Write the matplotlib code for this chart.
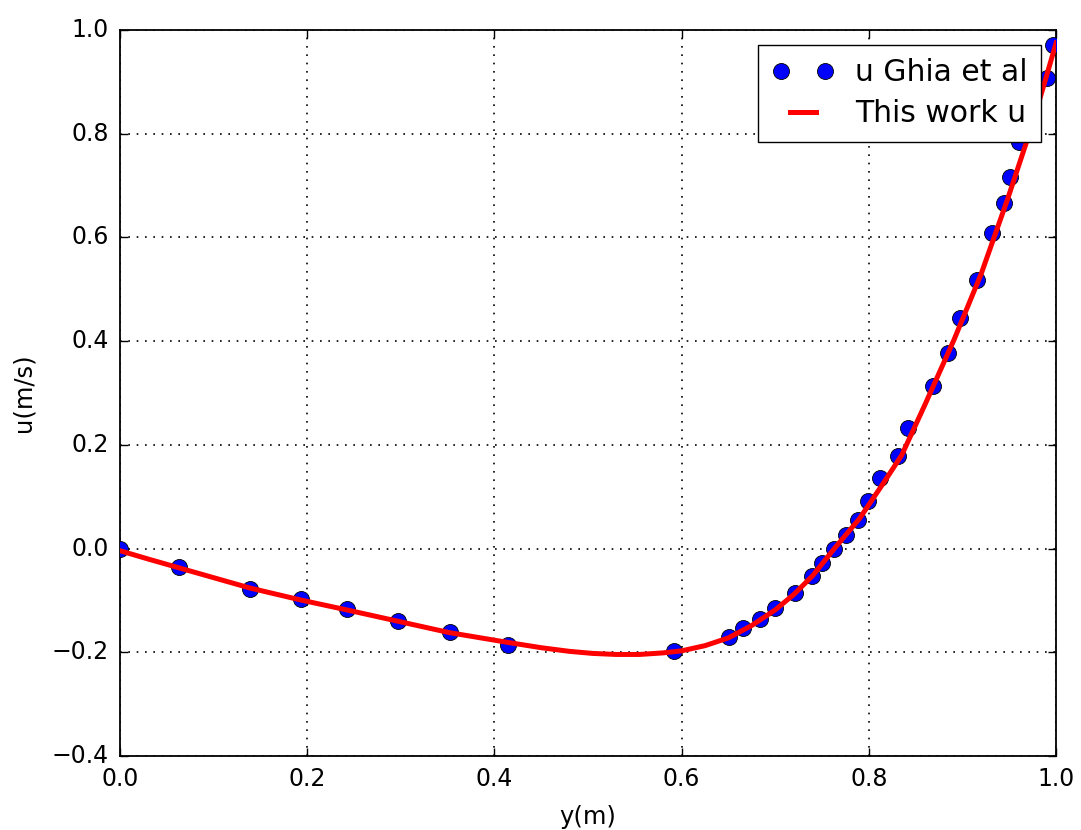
import matplotlib
matplotlib.use("Agg")
import matplotlib.pyplot as plt
from matplotlib.legend_handler import HandlerLine2D

plt.style.use("classic")

# Reference data (Ghia et al.) along the centreline
ghia_y = [0.000, 0.063, 0.139, 0.193, 0.242, 0.297, 0.352, 0.415, 0.592,
          0.651, 0.666, 0.684, 0.700, 0.721, 0.739, 0.750, 0.763, 0.776,
          0.788, 0.799, 0.812, 0.831, 0.842, 0.868, 0.885, 0.897, 0.915,
          0.932, 0.944, 0.951, 0.960, 0.990, 0.997]
ghia_u = [0.000, -0.036, -0.077, -0.098, -0.116, -0.139, -0.161, -0.185, -0.197,
          -0.171, -0.153, -0.136, -0.114, -0.085, -0.052, -0.027, 0.000, 0.026,
          0.055, 0.092, 0.137, 0.178, 0.232, 0.314, 0.378, 0.445, 0.518,
          0.608, 0.666, 0.717, 0.784, 0.907, 0.971]

# Present solution
work_y = [0.000, 0.030, 0.063, 0.100, 0.139, 0.193, 0.242, 0.297, 0.352,
          0.415, 0.450, 0.480, 0.505, 0.530, 0.555, 0.580, 0.600, 0.625,
          0.650, 0.675, 0.700, 0.720, 0.740, 0.763, 0.790, 0.815, 0.835,
          0.860, 0.891, 0.920, 0.948, 0.975, 1.000]
work_u = [-0.004, -0.020, -0.037, -0.056, -0.076, -0.099, -0.118, -0.140, -0.162,
          -0.181, -0.191, -0.198, -0.202, -0.204, -0.204, -0.201, -0.197, -0.187,
          -0.172, -0.148, -0.118, -0.088, -0.052, 0.000, 0.058, 0.125, 0.180,
          0.278, 0.403, 0.530, 0.673, 0.820, 0.975]

x_ticks = [0.0, 0.2, 0.4, 0.6, 0.8, 1.0]
y_ticks = [-0.4, -0.2, 0.0, 0.2, 0.4, 0.6, 0.8, 1.0]

fig = plt.figure(figsize=(10.81, 8.30), dpi=100, facecolor="white")
ax = fig.add_axes([0.111, 0.089, 0.866, 0.875])

dots, = ax.plot(ghia_y, ghia_u, "o", color="blue", markersize=11.5,
                markeredgecolor="black", markeredgewidth=0.6,
                label="u Ghia et al", zorder=3)
line, = ax.plot(work_y, work_u, "-", color="red", linewidth=3.6,
                label="This work u", zorder=4)

ax.set_xlim(0.0, 1.0)
ax.set_ylim(-0.4, 1.0)
ax.set_xticks(x_ticks)
ax.set_yticks(y_ticks)
ax.tick_params(labelsize=17, direction="in", length=6, width=1.0, pad=8)
ax.grid(True, color="black", linestyle=(0, (1.2, 4.8)), linewidth=1.2)
for s in ax.spines.values():
    s.set_linewidth(1.3)

ax.set_xlabel("y(m)", fontsize=17.5, labelpad=10)
ax.set_ylabel("u(m/s)", fontsize=17.5, labelpad=11.5)

leg_fs = 21.5
ax.legend(handles=[dots, line], loc="upper right", fontsize=leg_fs,
          numpoints=2, fancybox=False, framealpha=1.0,
          handlelength=1.81, handletextpad=1.0, borderpad=0.45,
          labelspacing=0.4, borderaxespad=0.5,
          handler_map={dots: HandlerLine2D(numpoints=2, marker_pad=0, xpad=0.335),
                       line: HandlerLine2D(xpad=0.335)})

fig.savefig("out.png", dpi=100, facecolor="white")
